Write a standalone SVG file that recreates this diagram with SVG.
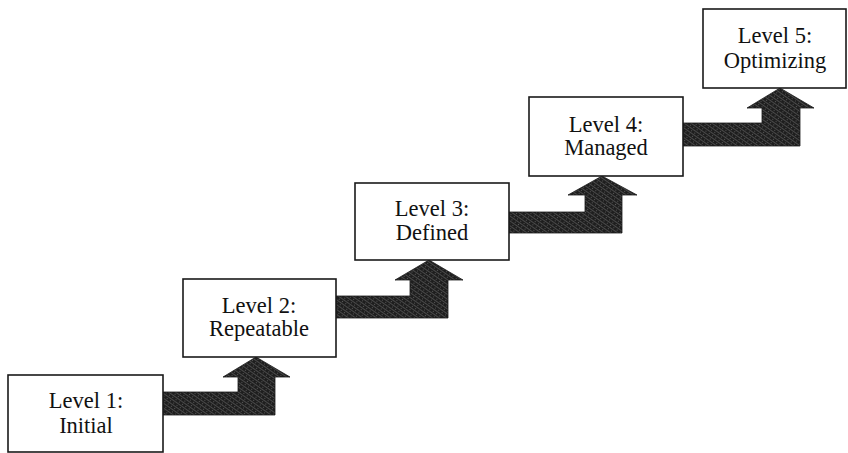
<svg xmlns="http://www.w3.org/2000/svg" width="848" height="453" viewBox="0 0 848 453">
<defs>
<pattern id="tex" width="4" height="4" patternUnits="userSpaceOnUse" patternTransform="rotate(35)">
<rect width="4" height="4" fill="#1e1e1e"/>
<rect x="0" y="0" width="4" height="1" fill="#4a4a4a"/>
<rect x="1" y="2" width="1" height="1" fill="#5a5a5a"/>
</pattern>
</defs>
<style>
.box{fill:#fff;stroke:#1a1a1a;stroke-width:1.6}
.lbl{font-family:'Liberation Serif','DejaVu Serif',serif;font-size:22.5px;fill:#111;text-anchor:middle}
.arr{fill:url(#tex);stroke:#1a1a1a;stroke-width:0.8}
</style>
<rect width="848" height="453" fill="#fff"/>
<g id="connectors">
<path class="arr" d="M163,392 L238,392 L238,377 L223,377 L256,357 L290,377 L275,377 L275,415 L163,415 Z"/>
<path class="arr" d="M336,296 L410,296 L410,280 L395,280 L429,260 L463,280 L448,280 L448,318 L336,318 Z"/>
<path class="arr" d="M509,212 L585,212 L585,195 L568,195 L602,176 L637,195 L622,195 L622,233 L509,233 Z"/>
<path class="arr" d="M683,123 L762,123 L762,108 L747,108 L780,88 L814,108 L800,108 L800,146 L683,146 Z"/>
</g>
<g id="level1">
<rect class="box" x="8" y="375" width="155" height="77"/>
<text class="lbl" x="86" y="408">Level 1:</text>
<text class="lbl" x="86" y="433">Initial</text>
</g>
<g id="level2">
<rect class="box" x="183" y="279" width="153" height="78"/>
<text class="lbl" x="259" y="313">Level 2:</text>
<text class="lbl" x="259" y="336">Repeatable</text>
</g>
<g id="level3">
<rect class="box" x="355" y="183" width="154" height="77"/>
<text class="lbl" x="432" y="216">Level 3:</text>
<text class="lbl" x="432" y="240">Defined</text>
</g>
<g id="level4">
<rect class="box" x="529" y="97" width="154" height="79"/>
<text class="lbl" x="606" y="132">Level 4:</text>
<text class="lbl" x="606" y="155">Managed</text>
</g>
<g id="level5">
<rect class="box" x="703" y="9" width="143" height="79"/>
<text class="lbl" x="775" y="43">Level 5:</text>
<text class="lbl" x="775" y="68">Optimizing</text>
</g>
</svg>
